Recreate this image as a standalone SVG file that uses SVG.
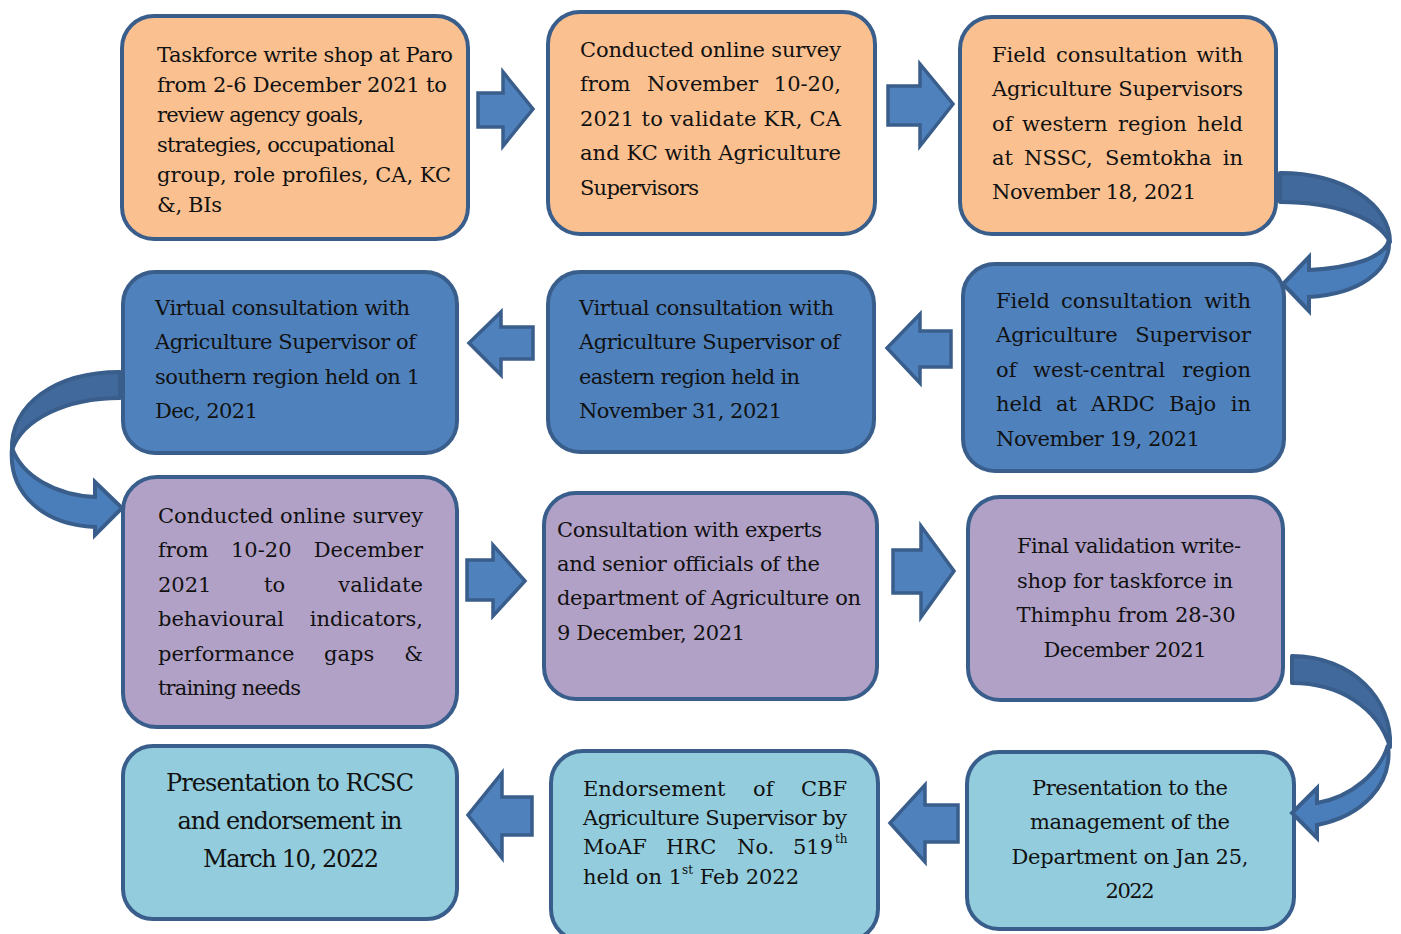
<svg xmlns="http://www.w3.org/2000/svg" width="1401" height="934" viewBox="0 0 1401 934">
<style>
.box{stroke:#3A5E8C;stroke-width:4}
.or{fill:#FAC090}.bl{fill:#4F81BD}.pu{fill:#B2A1C7}.aq{fill:#93CDDD}
text{font-family:'DejaVu Serif','Liberation Serif',serif;font-size:21px;fill:#111}
.big{font-size:24px}
.c{text-anchor:middle}
.e{text-anchor:end}
.sup{font-size:12px}
.arr{fill:#4F81BD;stroke:#3A5E8C;stroke-width:3.5;stroke-linejoin:miter}
.back{fill:#41699B;stroke:#3A5E8C;stroke-width:4;stroke-linejoin:round}
.front{fill:#4A7EBB;stroke:#3A5E8C;stroke-width:4;stroke-linejoin:miter}
</style>
<rect width="1401" height="934" fill="#fff"/>
<g id="n1">
<rect class="box or" x="122" y="16" width="346" height="223" rx="32"/>
<text x="157" y="62" textLength="296" lengthAdjust="spacing">Taskforce write shop at Paro</text>
<text x="157" y="92" textLength="290" lengthAdjust="spacing">from 2-6 December 2021 to</text>
<text x="157" y="122" textLength="207" lengthAdjust="spacing">review agency goals,</text>
<text x="157" y="152" textLength="238" lengthAdjust="spacing">strategies, occupational</text>
<text x="157" y="182" textLength="294" lengthAdjust="spacing">group, role profiles, CA, KC</text>
<text x="157" y="212" textLength="65" lengthAdjust="spacing">&amp;, BIs</text>
</g>
<g id="n2">
<rect class="box or" x="548" y="12" width="327" height="222" rx="32"/>
<text x="580" y="57" textLength="261" lengthAdjust="spacing">Conducted online survey</text>
<text x="580" y="91">from</text><text x="647" y="91">November</text><text class="e" x="841" y="91">10-20,</text>
<text x="580" y="126" textLength="261" lengthAdjust="spacing">2021 to validate KR, CA</text>
<text x="580" y="160" textLength="261" lengthAdjust="spacing">and KC with Agriculture</text>
<text x="580" y="195" textLength="119" lengthAdjust="spacing">Supervisors</text>
</g>
<g id="n3">
<rect class="box or" x="960" y="17" width="316" height="217" rx="32"/>
<text x="992" y="62">Field</text><text x="1056" y="62">consultation</text><text class="e" x="1243" y="62">with</text>
<text x="992" y="96" textLength="251" lengthAdjust="spacing">Agriculture Supervisors</text>
<text x="992" y="131">of</text><text x="1022" y="131">western</text><text x="1118" y="131">region</text><text class="e" x="1243" y="131">held</text>
<text x="992" y="165">at</text><text x="1024" y="165">NSSC,</text><text x="1105" y="165">Semtokha</text><text class="e" x="1243" y="165">in</text>
<text x="992" y="199" textLength="204" lengthAdjust="spacing">November 18, 2021</text>
</g>
<g id="n4">
<rect class="box bl" x="123" y="272" width="334" height="181" rx="32"/>
<text x="155" y="315" textLength="255" lengthAdjust="spacing">Virtual consultation with</text>
<text x="155" y="349" textLength="261" lengthAdjust="spacing">Agriculture Supervisor of</text>
<text x="155" y="384" textLength="265" lengthAdjust="spacing">southern region held on 1</text>
<text x="155" y="418" textLength="103" lengthAdjust="spacing">Dec, 2021</text>
</g>
<g id="n5">
<rect class="box bl" x="548" y="272" width="326" height="180" rx="32"/>
<text x="579" y="315" textLength="255" lengthAdjust="spacing">Virtual consultation with</text>
<text x="579" y="349" textLength="261" lengthAdjust="spacing">Agriculture Supervisor of</text>
<text x="579" y="384" textLength="221" lengthAdjust="spacing">eastern region held in</text>
<text x="579" y="418" textLength="203" lengthAdjust="spacing">November 31, 2021</text>
</g>
<g id="n6">
<rect class="box bl" x="963" y="264" width="321" height="207" rx="32"/>
<text x="996" y="308">Field</text><text x="1061" y="308">consultation</text><text class="e" x="1251" y="308">with</text>
<text x="996" y="342">Agriculture</text><text class="e" x="1251" y="342">Supervisor</text>
<text x="996" y="377">of</text><text x="1033" y="377">west-central</text><text class="e" x="1251" y="377">region</text>
<text x="996" y="411">held</text><text x="1056" y="411">at</text><text x="1091" y="411">ARDC</text><text x="1169" y="411">Bajo</text><text class="e" x="1251" y="411">in</text>
<text x="996" y="446" textLength="204" lengthAdjust="spacing">November 19, 2021</text>
</g>
<g id="n7">
<rect class="box pu" x="123" y="477" width="334" height="250" rx="34"/>
<text x="158" y="523" textLength="265" lengthAdjust="spacing">Conducted online survey</text>
<text x="158" y="557">from</text><text x="231" y="557">10-20</text><text class="e" x="423" y="557">December</text>
<text x="158" y="592">2021</text><text x="264" y="592">to</text><text class="e" x="423" y="592">validate</text>
<text x="158" y="626">behavioural</text><text class="e" x="423" y="626">indicators,</text>
<text x="158" y="661">performance</text><text x="324" y="661">gaps</text><text class="e" x="423" y="661">&amp;</text>
<text x="158" y="695" textLength="143" lengthAdjust="spacing">training needs</text>
</g>
<g id="n8">
<rect class="box pu" x="544" y="493" width="333" height="206" rx="32"/>
<text x="557" y="537" textLength="265" lengthAdjust="spacing">Consultation with experts</text>
<text x="557" y="571" textLength="263" lengthAdjust="spacing">and senior officials of the</text>
<text x="557" y="605" textLength="304" lengthAdjust="spacing">department of Agriculture on</text>
<text x="557" y="640" textLength="188" lengthAdjust="spacing">9 December, 2021</text>
</g>
<g id="n9">
<rect class="box pu" x="968" y="497" width="315" height="203" rx="32"/>
<text class="c" x="1129" y="553" textLength="224" lengthAdjust="spacing">Final validation write-</text>
<text class="c" x="1125" y="588" textLength="216" lengthAdjust="spacing">shop for taskforce in</text>
<text class="c" x="1126" y="622" textLength="219" lengthAdjust="spacing">Thimphu from 28-30</text>
<text class="c" x="1125" y="657" textLength="163" lengthAdjust="spacing">December 2021</text>
</g>
<g id="n10">
<rect class="box aq" x="123" y="746" width="334" height="173" rx="30"/>
<text class="big c" x="290" y="791" textLength="248" lengthAdjust="spacing">Presentation to RCSC</text>
<text class="big c" x="290" y="829" textLength="225" lengthAdjust="spacing">and endorsement in</text>
<text class="big c" x="291" y="867" textLength="176" lengthAdjust="spacing">March 10, 2022</text>
</g>
<g id="n11">
<rect class="box aq" x="551" y="751" width="327" height="190" rx="32"/>
<text x="583" y="796">Endorsement</text><text x="753" y="796">of</text><text class="e" x="847" y="796">CBF</text>
<text x="583" y="825" textLength="264" lengthAdjust="spacing">Agriculture Supervisor by</text>
<text x="583" y="854">MoAF</text><text x="666" y="854">HRC</text><text x="737" y="854">No.</text><text class="e" x="833" y="854">519</text><text class="sup" x="835" y="843">th</text>
<text x="583" y="884">held on 1<tspan class="sup" dy="-10">st</tspan><tspan dy="10"> Feb 2022</tspan></text>
</g>
<g id="n12">
<rect class="box aq" x="967" y="752" width="327" height="177" rx="32"/>
<text class="c" x="1130" y="795" textLength="196" lengthAdjust="spacing">Presentation to the</text>
<text class="c" x="1130" y="829" textLength="200" lengthAdjust="spacing">management of the</text>
<text class="c" x="1130" y="864" textLength="237" lengthAdjust="spacing">Department on Jan 25,</text>
<text class="c" x="1130" y="898" textLength="49" lengthAdjust="spacing">2022</text>
</g>
<g id="connectors">
<polygon class="arr" points="478,93 503,93 503,72 533,109 503,146 503,127 478,127"/>
<polygon class="arr" points="888,86 920,86 920,64 953,104 920,146 920,125 888,125"/>
<polygon class="arr" points="533,327 501,327 501,312 469,343 501,375 501,359 533,359"/>
<polygon class="arr" points="951,331 920,331 920,314 887,348 920,383 920,367 951,367"/>
<polygon class="arr" points="467,560 493,560 493,545 525,581 493,616 493,600 467,600"/>
<polygon class="arr" points="893,550 921,550 921,526 954,571 921,617 921,593 893,593"/>
<polygon class="arr" points="532,797 502,797 502,773 468,815 502,858 502,835 532,835"/>
<polygon class="arr" points="958,805 925,805 925,785 890,823 925,862 925,842 958,842"/>
<path class="back" d="M1280,173 C1345,173 1390,205 1390,242 C1378,218 1335,202 1280,202 Z"/>
<path class="front" d="M1389,240 C1385,258 1350,268 1309,270 L1309,257 L1283,284 L1309,311 L1309,297 C1358,294 1391,272 1389,240 Z"/>
<path class="back" d="M120,372 C55,372 10,405 12,450 C22,420 65,398 120,398 Z"/>
<path class="front" d="M12,448 C22,476 55,495 95,497 L95,482 L122,508 L95,535 L95,527 C45,525 8,495 12,448 Z"/>
<path class="back" d="M1292,656 C1352,656 1393,700 1390,747 C1378,708 1340,683 1292,683 Z"/>
<path class="front" d="M1388,745 C1380,772 1352,797 1317,803 L1317,788 L1292,813 L1317,838 L1317,825 C1362,816 1393,785 1388,745 Z"/>
</g>
</svg>
